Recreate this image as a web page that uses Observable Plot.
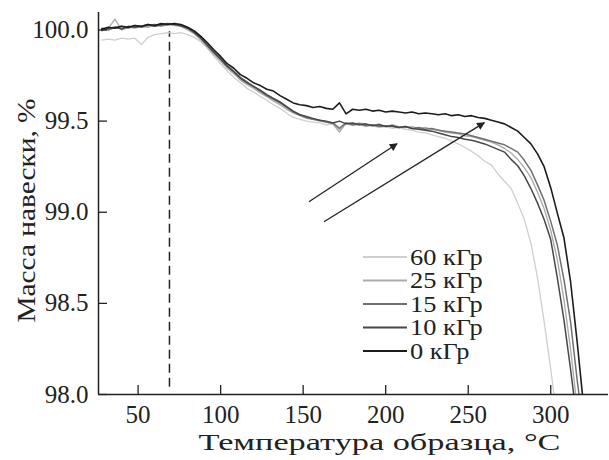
<!DOCTYPE html>
<html>
<head>
<meta charset="utf-8">
<script src="https://cdn.jsdelivr.net/npm/d3@7"></script>
<script src="https://cdn.jsdelivr.net/npm/@observablehq/plot@0.6"></script>
<style>
  html, body { margin: 0; padding: 0; background: #fff; }
  #wrap { position: relative; width: 609px; height: 460px; }
  #legend { position: absolute; left: 0; top: 0; pointer-events: none; }
</style>
</head>
<body>
<div id="wrap"></div>
<script>
// Temperature grid, °C
const temps = [28,32,36,40,44,48,52,56,60,64,68,72,76,80,84,88,92,96,100,104,108,112,116,120,124,128,132,136,140,144,148,152,156,160,164,168,172,176,180,184,188,192,196,200,204,208,212,216,220,224,228,232,236,240,244,248,252,256,260,264,268,272,276,280,284,288,292,296,300,304,308,312,316,320,324];

// Mass, % — one array per dose
const m0 = [100.005,100.015,100.01,100.02,100.015,100.025,100.02,100.03,100.025,100.035,100.03,100.035,100.03,100.015,99.995,99.965,99.93,99.89,99.855,99.815,99.79,99.755,99.735,99.71,99.695,99.675,99.665,99.64,99.62,99.6,99.59,99.585,99.575,99.58,99.57,99.565,99.6,99.54,99.565,99.56,99.565,99.555,99.56,99.55,99.555,99.55,99.545,99.55,99.54,99.545,99.54,99.535,99.54,99.53,99.535,99.525,99.53,99.52,99.515,99.505,99.495,99.485,99.465,99.445,99.41,99.375,99.32,99.25,99.135,98.995,98.86,98.62,98.29,97.93,null];
const m10 = [100.0,100.01,100.015,100.005,100.02,100.015,100.02,100.03,100.02,100.03,100.035,100.03,100.025,100.01,99.985,99.955,99.915,99.875,99.84,99.8,99.77,99.735,99.71,99.69,99.67,99.645,99.625,99.605,99.58,99.555,99.535,99.525,99.515,99.505,99.5,99.49,99.5,99.485,99.49,99.48,99.485,99.475,99.48,99.47,99.475,99.465,99.47,99.46,99.455,99.45,99.445,99.435,99.425,99.415,99.41,99.4,99.395,99.385,99.375,99.36,99.345,99.33,99.29,99.255,99.2,99.13,99.05,98.96,98.85,98.64,98.41,98.14,97.85,null,null];
const m15 = [100.01,100.0,100.015,100.02,100.01,100.025,100.015,100.025,100.03,100.025,100.03,100.035,100.02,100.01,99.99,99.96,99.92,99.88,99.845,99.805,99.775,99.74,99.715,99.69,99.665,99.64,99.62,99.6,99.575,99.55,99.535,99.52,99.51,99.505,99.495,99.49,99.46,99.49,99.48,99.485,99.475,99.48,99.47,99.475,99.47,99.465,99.47,99.46,99.465,99.455,99.46,99.45,99.445,99.44,99.435,99.43,99.42,99.41,99.4,99.39,99.38,99.37,99.35,99.33,99.285,99.23,99.15,99.065,98.95,98.82,98.63,98.4,98.08,97.8,null];
const m25 = [99.995,100.01,100.06,100.0,100.015,100.01,100.02,100.015,100.025,100.02,100.03,100.025,100.02,100.0,99.98,99.945,99.905,99.865,99.83,99.79,99.76,99.725,99.7,99.68,99.655,99.635,99.61,99.59,99.565,99.545,99.53,99.515,99.51,99.5,99.495,99.485,99.44,99.49,99.48,99.49,99.48,99.475,99.485,99.47,99.48,99.47,99.465,99.47,99.46,99.465,99.455,99.45,99.44,99.435,99.43,99.42,99.415,99.405,99.395,99.385,99.37,99.35,99.325,99.29,99.245,99.19,99.11,99.02,98.9,98.74,98.52,98.25,97.93,null,null];
const m60 = [99.945,99.95,99.945,99.955,99.95,99.955,99.92,99.96,99.975,99.98,99.985,99.98,99.985,99.975,99.96,99.935,99.9,99.855,99.815,99.775,99.74,99.71,99.68,99.66,99.635,99.615,99.59,99.57,99.545,99.52,99.51,99.5,99.495,99.49,99.48,99.485,99.45,99.485,99.475,99.48,99.47,99.475,99.465,99.47,99.46,99.465,99.455,99.45,99.44,99.435,99.425,99.415,99.405,99.39,99.375,99.355,99.335,99.31,99.28,99.26,99.21,99.17,99.13,99.05,98.96,98.83,98.64,98.4,98.14,97.86,null,null,null,null,null];

// Series names and colours (legend order, top to bottom)
const seriesNames = ["60 кГр", "25 кГр", "15 кГр", "10 кГр", "0 кГр"];
const seriesColors = ["#cfcfcf", "#acacac", "#707070", "#474747", "#1c1c1c"];
const seriesWidths = [1.3, 1.4, 1.5, 1.5, 1.6];
const seriesValues = [m60, m25, m15, m10, m0];

// Annotations
const onsetTemp = [69];
const arrowX1 = [153.5, 162.6];
const arrowY1 = [99.058, 98.948];
const arrowX2 = [206.9, 259.8];
const arrowY2 = [99.376, 99.492];

// Axis ticks and titles
const xTicks = [50, 100, 150, 200, 250, 300];
const yTicks = [98.0, 98.5, 99.0, 99.5, 100.0];
const xTitle = "Температура образца, °C";
const yTitle = "Масса навески, %";

const rows = [];
seriesValues.forEach((vals, s) => {
  temps.forEach((t, i) => {
    if (vals[i] != null) rows.push({series: seriesNames[s], T: t, M: vals[i]});
  });
});
const arrows = arrowX1.map((x, i) => ({x1: x, y1: arrowY1[i], x2: arrowX2[i], y2: arrowY2[i]}));

const font = "Liberation Serif, Times New Roman, serif";

const chart = Plot.plot({
  width: 609,
  height: 460,
  marginLeft: 98,
  marginRight: 1,
  marginTop: 12,
  marginBottom: 66,
  style: {fontFamily: font, background: "#fff", color: "#222"},
  x: {domain: [26, 335]},
  y: {domain: [98, 100.096]},
  marks: [
    Plot.ruleX(onsetTemp, {y1: 98.04, y2: 99.99, stroke: "#222", strokeWidth: 1.5, strokeDasharray: "9,5"}),
    ...seriesNames.map((name, s) => Plot.line(rows.filter(d => d.series === name), {
      x: "T", y: "M", stroke: seriesColors[s], strokeWidth: seriesWidths[s], clip: true
    })),
    Plot.link(arrows, {x1: "x1", y1: "y1", x2: "x2", y2: "y2", stroke: "#222", strokeWidth: 1.3}),
    Plot.ruleY([98], {stroke: "#222", strokeWidth: 1.5}),
    Plot.ruleX([26], {stroke: "#222", strokeWidth: 1.5}),
    Plot.axisX({ticks: xTicks, tickSize: -9, stroke: "#222", fill: "none", label: null, strokeWidth: 1.3}),
    Plot.axisX({ticks: xTicks, tickSize: 0, tickPadding: 11, fontSize: 25, fill: "#222", label: null, tickFormat: d => String(d)}),
    Plot.axisY({ticks: yTicks, tickSize: -9, stroke: "#222", fill: "none", label: null, strokeWidth: 1.3}),
    Plot.axisY({ticks: yTicks, tickSize: 0, tickPadding: 10, fontSize: 25, fill: "#222", label: null, tickFormat: d => d.toFixed(1)}),
    Plot.text([xTitle], {frameAnchor: "bottom", dx: 26, dy: 48, fontSize: 24, fill: "#222", lineAnchor: "middle", textAnchor: "middle"}),
    Plot.text([yTitle], {frameAnchor: "left", dx: -72, dy: 7, rotate: -90, fontSize: 26, fill: "#222", lineAnchor: "middle", textAnchor: "middle"})
  ]
});
document.getElementById("wrap").appendChild(chart);

const svg = d3.select(chart);

// Widen the Cyrillic titles to the reference's glyph widths
svg.selectAll("text").each(function() {
  const t = this.textContent;
  if (t === xTitle) d3.select(this).attr("textLength", 362).attr("lengthAdjust", "spacingAndGlyphs");
  if (t === yTitle) d3.select(this).attr("textLength", 224).attr("lengthAdjust", "spacingAndGlyphs");
});

// Filled arrowheads on the annotation links
const defs = svg.insert("defs", ":first-child");
defs.append("marker")
  .attr("id", "headfill")
  .attr("viewBox", "0 0 10 10")
  .attr("refX", 9).attr("refY", 5)
  .attr("markerUnits", "userSpaceOnUse")
  .attr("markerWidth", 11).attr("markerHeight", 8)
  .attr("orient", "auto")
  .append("path").attr("d", "M0,0L10,5L0,10z").attr("fill", "#222");
svg.selectAll("g[aria-label='link'] path, g[aria-label='link'] line").attr("marker-end", "url(#headfill)");

// Legend overlay
const ns = "http://www.w3.org/2000/svg";
const leg = document.createElementNS(ns, "svg");
leg.setAttribute("id", "legend");
leg.setAttribute("width", 609);
leg.setAttribute("height", 460);
document.getElementById("wrap").appendChild(leg);
const legTop = 257, legStep = 23.5;
seriesNames.forEach((name, i) => {
  const y = legTop + i * legStep;
  const ln = document.createElementNS(ns, "line");
  ln.setAttribute("x1", 363); ln.setAttribute("x2", 407);
  ln.setAttribute("y1", y); ln.setAttribute("y2", y);
  ln.setAttribute("stroke", seriesColors[i]);
  ln.setAttribute("stroke-width", 1.8);
  leg.appendChild(ln);
  const tx = document.createElementNS(ns, "text");
  tx.setAttribute("x", 410);
  tx.setAttribute("y", y);
  tx.setAttribute("dy", "0.32em");
  tx.setAttribute("font-family", font);
  tx.setAttribute("font-size", 24);
  tx.setAttribute("fill", "#222");
  tx.textContent = name;
  leg.appendChild(tx);
  const w = tx.getComputedTextLength();
  if (w > 0) {
    tx.setAttribute("textLength", (w * 1.1).toFixed(1));
    tx.setAttribute("lengthAdjust", "spacingAndGlyphs");
  }
});
</script>
</body>
</html>
